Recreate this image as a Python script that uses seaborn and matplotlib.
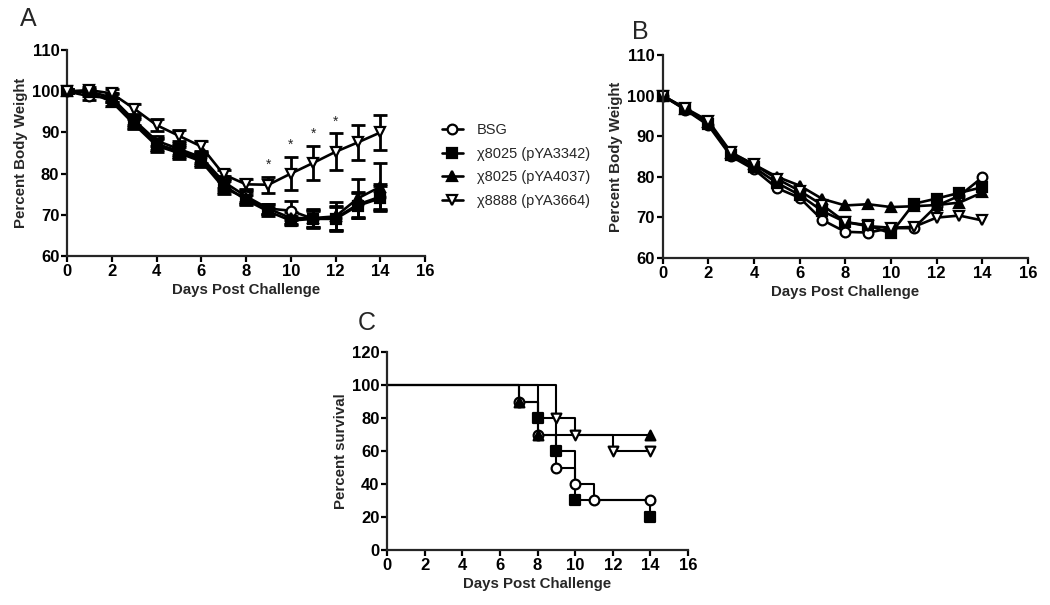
import numpy as np
import pandas as pd
import seaborn as sns
import matplotlib.pyplot as plt
from matplotlib.lines import Line2D

# ---- data ----
days = list(range(15))
groups = ["BSG", "\u03c78025 (pYA3342)", "\u03c78025 (pYA4037)", "\u03c78888 (pYA3664)"]
markers = {groups[0]: "o", groups[1]: "s", groups[2]: "^", groups[3]: "v"}
faces = {groups[0]: "white", groups[1]: "black", groups[2]: "black", groups[3]: "white"}

# Panel A: mean percent body weight and error
a_bsg = [100, 98.8, 98.4, 93.0, 88.0, 86.0, 84.0, 78.0, 74.5, 71.5, 71.0, 69.0, 69.2, 72.5, 74.4]
a_3342 = [100, 100.0, 98.5, 92.5, 87.2, 85.5, 83.5, 77.2, 73.6, 70.8, 68.6, 69.0, 69.0, 72.2, 74.0]
a_4037 = [100, 99.8, 97.5, 92.0, 86.8, 85.0, 83.0, 76.6, 74.0, 71.5, 69.2, 69.2, 69.6, 74.0, 76.8]
a_3664 = [100, 100.3, 99.5, 95.8, 91.8, 89.2, 86.6, 79.8, 77.4, 77.3, 80.0, 82.6, 85.3, 87.6, 90.0]
a_bsg_err = [0.5, 0.8, 1.0, 1.2, 1.2, 1.5, 1.5, 1.5, 1.5, 1.2, 2.3, 2.0, 3.0, 3.0, 3.0]
a_3342_err = [0.5, 0.6, 1.0, 1.2, 1.5, 1.5, 1.5, 1.5, 1.2, 1.0, 1.0, 2.2, 2.8, 3.0, 3.0]
a_4037_err = [0.5, 0.6, 1.0, 1.2, 1.5, 1.5, 1.5, 1.5, 1.5, 1.2, 1.5, 2.2, 3.5, 4.8, 5.7]
a_3664_err = [0.5, 0.8, 1.0, 1.2, 1.5, 1.3, 1.3, 1.2, 1.2, 2.0, 4.0, 4.2, 4.5, 4.2, 4.3]
star_days = [9, 10, 11, 12]

# Panel B: mean percent body weight (no error bars)
b_bsg = [100, 96.5, 92.7, 85.0, 81.8, 77.2, 74.8, 69.3, 66.4, 66.2, 67.3, 67.3, 72.8, 75.3, 79.8]
b_3342 = [100, 96.6, 93.0, 85.3, 82.3, 78.5, 75.5, 71.5, 68.8, 68.0, 66.0, 73.3, 74.6, 76.0, 77.4]
b_4037 = [100, 96.8, 93.4, 85.8, 83.0, 80.0, 77.8, 74.5, 72.9, 73.2, 72.5, 72.7, 73.0, 73.6, 76.1]
b_3664 = [100, 96.9, 93.8, 86.0, 83.0, 79.5, 76.5, 73.0, 68.8, 67.8, 67.4, 67.6, 69.9, 70.4, 69.2]

# Panel C: Kaplan-Meier steps (time, percent survival)
c_bsg_t = [0, 7, 8, 9, 10, 11, 14]
c_bsg_s = [100, 90, 70, 50, 40, 30, 30]
c_3342_t = [0, 8, 9, 10, 14]
c_3342_s = [100, 80, 60, 30, 20]
c_4037_t = [0, 7, 8, 14]
c_4037_s = [100, 90, 70, 70]
c_3664_t = [0, 9, 10, 12, 14]
c_3664_s = [100, 80, 70, 60, 60]

# ---- long tables ----
rows = []
for g, m, e, b in zip(groups, [a_bsg, a_3342, a_4037, a_3664],
                      [a_bsg_err, a_3342_err, a_4037_err, a_3664_err],
                      [b_bsg, b_3342, b_4037, b_3664]):
    for d, mv, ev, bv in zip(days, m, e, b):
        rows.append({"group": g, "day": d, "a": mv, "a_err": ev, "b": bv})
df = pd.DataFrame(rows)

surv = []
for g, t, s in zip(groups, [c_bsg_t, c_3342_t, c_4037_t, c_3664_t],
                   [c_bsg_s, c_3342_s, c_4037_s, c_3664_s]):
    for tv, sv in zip(t, s):
        surv.append({"group": g, "day": tv, "surv": sv})
sdf = pd.DataFrame(surv)

sns.set_style("ticks")
plt.rcParams["font.family"] = ["Liberation Sans", "DejaVu Sans"]
plt.rcParams["axes.linewidth"] = 1.6
plt.rcParams["xtick.major.width"] = 1.6
plt.rcParams["ytick.major.width"] = 1.6
plt.rcParams["xtick.major.size"] = 4
plt.rcParams["ytick.major.size"] = 4
plt.rcParams["xtick.major.pad"] = 2
plt.rcParams["ytick.major.pad"] = 1.5

fig = plt.figure(figsize=(10.5, 6.05), dpi=100)
axA = fig.add_axes([0.0638, 0.577, 0.341, 0.340])
axB = fig.add_axes([0.631, 0.574, 0.348, 0.335])
axC = fig.add_axes([0.3686, 0.091, 0.2867, 0.327])

ms = 7
lw = 1.9


def style_axis(ax, ylabel, yticks, ylim):
    ax.set_xlim(0, 16)
    ax.set_xticks(range(0, 17, 2))
    ax.set_ylim(*ylim)
    ax.set_yticks(yticks)
    ax.tick_params(labelsize=12, colors="black")
    for lab in ax.get_xticklabels() + ax.get_yticklabels():
        lab.set_fontweight("bold")
    ax.set_xlabel("Days Post Challenge", fontsize=10.8, fontweight="bold", labelpad=3)
    ax.set_ylabel(ylabel, fontsize=10.8, fontweight="bold", labelpad=3)
    sns.despine(ax=ax)
    for sp in ax.spines.values():
        sp.set_clip_on(False)


# Panel A
for g in groups:
    sub = df[df.group == g]
    axA.errorbar(sub.day, sub.a, yerr=sub.a_err, fmt="none", ecolor="black",
                 elinewidth=2, capsize=5, capthick=2, zorder=2)
    sns.lineplot(data=sub, x="day", y="a", ax=axA, color="black", lw=lw,
                 marker=markers[g], markersize=ms, markerfacecolor=faces[g],
                 markeredgecolor="black", markeredgewidth=1.6, zorder=3, clip_on=False)
star_sub = df[(df.group == groups[3]) & (df.day.isin(star_days))]
for d, y, e in zip(star_sub.day, star_sub.a, star_sub.a_err):
    axA.text(d, y + e + 1.2, "*", ha="center", va="bottom", fontsize=10)
style_axis(axA, "Percent Body Weight", range(60, 111, 10), (60, 110))

# Panel B
for g in groups:
    sub = df[df.group == g]
    sns.lineplot(data=sub, x="day", y="b", ax=axB, color="black", lw=lw,
                 marker=markers[g], markersize=ms, markerfacecolor=faces[g],
                 markeredgecolor="black", markeredgewidth=1.6, clip_on=False)
style_axis(axB, "Percent Body Weight", range(60, 111, 10), (60, 110))

# Panel C
for g in groups:
    sub = sdf[sdf.group == g]
    sns.lineplot(data=sub, x="day", y="surv", ax=axC, color="black", lw=1.5,
                 drawstyle="steps-post", clip_on=False)
    pts = sub[sub.day > 0]
    sns.scatterplot(data=pts, x="day", y="surv", ax=axC, marker=markers[g],
                    s=ms ** 2, facecolor=faces[g], edgecolor="black",
                    linewidth=1.6, zorder=4, clip_on=False)
style_axis(axC, "Percent survival", range(0, 121, 20), (0, 120))

# Legend
handles = [Line2D([0], [0], color="black", lw=lw, marker=markers[g], markersize=ms,
                  markerfacecolor=faces[g], markeredgecolor="black", markeredgewidth=1.6)
           for g in groups]
fig.legend(handles, groups, loc="upper left", bbox_to_anchor=(0.408, 0.818),
           frameon=False, fontsize=10.5, handlelength=1.5, handletextpad=0.9,
           labelspacing=0.65)

# Panel letters
fig.text(0.019, 0.968, "A", fontsize=18, va="center")
fig.text(0.602, 0.947, "B", fontsize=18, va="center")
fig.text(0.341, 0.466, "C", fontsize=18, va="center")

fig.savefig("out.png", dpi=100)
